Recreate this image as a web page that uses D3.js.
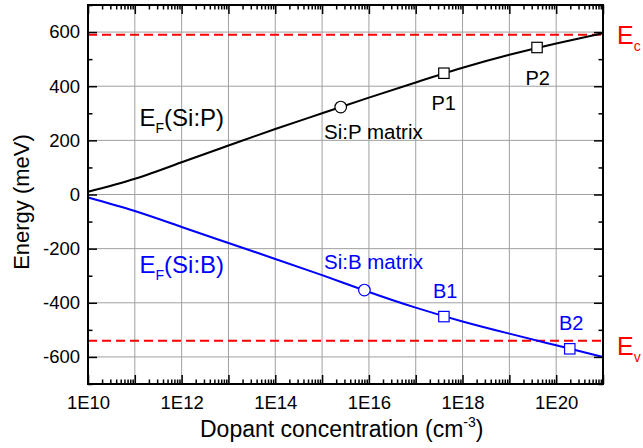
<!DOCTYPE html>
<html>
<head>
<meta charset="utf-8">
<script src="https://cdn.jsdelivr.net/npm/d3@7"></script>
<style>
  body { margin: 0; background: #fff; }
  svg text { font-family: "Liberation Sans", Arial, sans-serif; }
</style>
</head>
<body>
<div id="chart"></div>
<script>
// ------------------------------------------------------------
// Data
// ------------------------------------------------------------
const concentration = [1e10, 1e11, 1e12, 1e13, 1e14, 1e15, 1e16, 1e17, 1e18, 1e19, 1e20, 1e21];
const efSiP = [10, 58, 119, 181, 242, 300, 358, 414, 468, 516, 558, 596];
const efSiB = [-11, -61, -120, -179, -238, -298, -360, -418, -469, -514, -557, -600];

const pMarkerConc = [2.5e15, 4e17, 3.9e19];
const pMarkerVal = [323, 448, 543];
const pMarkerShape = ["circle", "square", "square"];

const bMarkerConc = [8e15, 4e17, 1.95e20];
const bMarkerVal = [-353, -451, -570];
const bMarkerShape = ["circle", "square", "square"];

const bandEdges = [590, -540];   // Ec, Ev
const yTicks = [-600, -400, -200, 0, 200, 400, 600];
const xDecades = [1e10, 1e11, 1e12, 1e13, 1e14, 1e15, 1e16, 1e17, 1e18, 1e19, 1e20, 1e21];
const xLabels = ["1E10", "", "1E12", "", "1E14", "", "1E16", "", "1E18", "", "1E20", ""];

// ------------------------------------------------------------
// Layout
// ------------------------------------------------------------
const width = 643, height = 448;
const margin = { top: 5, right: 40, bottom: 64, left: 88 };
const innerW = width - margin.left - margin.right;
const innerH = height - margin.top - margin.bottom;

const svg = d3.select("#chart").append("svg")
    .attr("width", width)
    .attr("height", height);

const g = svg.append("g")
    .attr("transform", `translate(${margin.left},${margin.top})`);

const x = d3.scaleLog().domain([1e10, 1e21]).range([0, innerW]);
const y = d3.scaleLinear().domain([-700, 700]).range([innerH, 0]);

// minor tick positions (2..9 within each decade)
const xMinor = [];
xDecades.slice(0, -1).forEach(d => {
    for (let k = 2; k <= 9; k++) xMinor.push(k * d);
});
const yMinor = d3.range(-700, 701, 100).filter(v => v % 200 !== 0);

// Grid
g.append("g").selectAll("line")
    .data(xDecades.slice(1, -1))
    .enter().append("line")
    .attr("x1", d => x(d)).attr("x2", d => x(d))
    .attr("y1", 0).attr("y2", innerH)
    .attr("stroke", "#a0a0a0").attr("stroke-width", 1);

g.append("g").selectAll("line")
    .data(yTicks)
    .enter().append("line")
    .attr("x1", 0).attr("x2", innerW)
    .attr("y1", d => y(d)).attr("y2", d => y(d))
    .attr("stroke", "#a0a0a0").attr("stroke-width", 1);

// Band edges
g.append("g").selectAll("line")
    .data(bandEdges)
    .enter().append("line")
    .attr("x1", 0).attr("x2", innerW)
    .attr("y1", d => y(d)).attr("y2", d => y(d))
    .attr("stroke", "#ff0000").attr("stroke-width", 2)
    .attr("stroke-dasharray", "9,5");

// Curves
const line = d3.line()
    .x(d => x(d[0]))
    .y(d => y(d[1]))
    .curve(d3.curveNatural);

g.append("path")
    .datum(concentration.map((c, i) => [c, efSiP[i]]))
    .attr("d", line)
    .attr("fill", "none").attr("stroke", "#000").attr("stroke-width", 2);

g.append("path")
    .datum(concentration.map((c, i) => [c, efSiB[i]]))
    .attr("d", line)
    .attr("fill", "none").attr("stroke", "#0000ff").attr("stroke-width", 2);

// Markers
function drawMarkers(concs, vals, shapes, color) {
    concs.forEach((c, i) => {
        if (shapes[i] === "circle") {
            g.append("circle")
                .attr("cx", x(c)).attr("cy", y(vals[i])).attr("r", 5.8)
                .attr("fill", "#fff").attr("stroke", color).attr("stroke-width", 1.2);
        } else {
            g.append("rect")
                .attr("x", x(c) - 5.2).attr("y", y(vals[i]) - 5.2)
                .attr("width", 10.4).attr("height", 10.4)
                .attr("fill", "#fff").attr("stroke", color).attr("stroke-width", 1.2);
        }
    });
}
drawMarkers(pMarkerConc, pMarkerVal, pMarkerShape, "#000");
drawMarkers(bMarkerConc, bMarkerVal, bMarkerShape, "#0000ff");

// Axes (ticks pointing inward)
function styleAxis(sel) {
    sel.select(".domain").remove();
    sel.selectAll(".tick line").attr("stroke", "#000").attr("stroke-width", 1.5);
    sel.selectAll("text").attr("font-size", "18.5px").attr("fill", "#000")
        .attr("font-family", "Liberation Sans, Arial, sans-serif");
}

const xBottom = g.append("g").attr("transform", `translate(0,${innerH})`)
    .call(d3.axisBottom(x).tickValues(xDecades).tickSize(-9).tickPadding(12)
        .tickFormat((d, i) => xLabels[i]));
styleAxis(xBottom);
xBottom.selectAll("text").attr("dy", "0.71em");

const xBottomMinor = g.append("g").attr("transform", `translate(0,${innerH})`)
    .call(d3.axisBottom(x).tickValues(xMinor).tickSize(-4.5).tickFormat(""));
styleAxis(xBottomMinor);

const xTop = g.append("g")
    .call(d3.axisTop(x).tickValues(xDecades).tickSize(-9).tickFormat(""));
styleAxis(xTop);
const xTopMinor = g.append("g")
    .call(d3.axisTop(x).tickValues(xMinor).tickSize(-4.5).tickFormat(""));
styleAxis(xTopMinor);

const yLeft = g.append("g")
    .call(d3.axisLeft(y).tickValues(yTicks).tickSize(-9).tickPadding(8)
        .tickFormat(d => String(d)));
styleAxis(yLeft);

const yLeftMinor = g.append("g")
    .call(d3.axisLeft(y).tickValues(yMinor).tickSize(-4.5).tickFormat(""));
styleAxis(yLeftMinor);

const yRight = g.append("g").attr("transform", `translate(${innerW},0)`)
    .call(d3.axisRight(y).tickValues(yTicks).tickSize(-9).tickFormat(""));
styleAxis(yRight);
const yRightMinor = g.append("g").attr("transform", `translate(${innerW},0)`)
    .call(d3.axisRight(y).tickValues(yMinor).tickSize(-4.5).tickFormat(""));
styleAxis(yRightMinor);

// Frame
g.append("rect")
    .attr("x", 0).attr("y", 0).attr("width", innerW).attr("height", innerH)
    .attr("fill", "none").attr("stroke", "#000").attr("stroke-width", 2);

// Axis titles
const xTitle = svg.append("text")
    .attr("x", 200).attr("y", 437)
    .attr("font-size", "23px").attr("fill", "#000");
xTitle.append("tspan").text("Dopant concentration (cm");
xTitle.append("tspan").attr("font-size", "14px").attr("dy", -10).text("-3");
xTitle.append("tspan").attr("dy", 10).text(")");

svg.append("text")
    .attr("transform", "translate(29,202) rotate(-90)")
    .attr("text-anchor", "middle")
    .attr("font-size", "22px").attr("fill", "#000")
    .text("Energy (meV)");

// Annotations
function subLabel(px, py, main, sub, rest, color, size, subSize) {
    const t = svg.append("text")
        .attr("x", px).attr("y", py)
        .attr("font-size", size + "px").attr("fill", color);
    t.append("tspan").text(main);
    t.append("tspan").attr("font-size", subSize + "px").attr("dy", 7).text(sub);
    if (rest) t.append("tspan").attr("dy", -7).text(rest);
}
subLabel(139.5, 126, "E", "F", "(Si:P)", "#000", 24, 14);
subLabel(139.5, 273, "E", "F", "(Si:B)", "#0000ff", 24, 14);
subLabel(617, 43.5, "E", "c", "", "#ff0000", 25, 14);
subLabel(617, 355, "E", "v", "", "#ff0000", 25, 14);

function note(px, py, txt, color, size) {
    svg.append("text")
        .attr("x", px).attr("y", py)
        .attr("font-size", size + "px").attr("fill", color)
        .attr("xml:space", "preserve")
        .text(txt);
}
note(324, 138.5, "Si:P matrix", "#000", 20.5);
note(431.5, 110, "P1", "#000", 20);
note(525.5, 85, "P2", "#000", 20);
note(324, 269, "Si:B matrix", "#0000ff", 20.5);
note(433, 297.5, "B1", "#0000ff", 20);
note(559, 329.5, "B2", "#0000ff", 20);
</script>
</body>
</html>
